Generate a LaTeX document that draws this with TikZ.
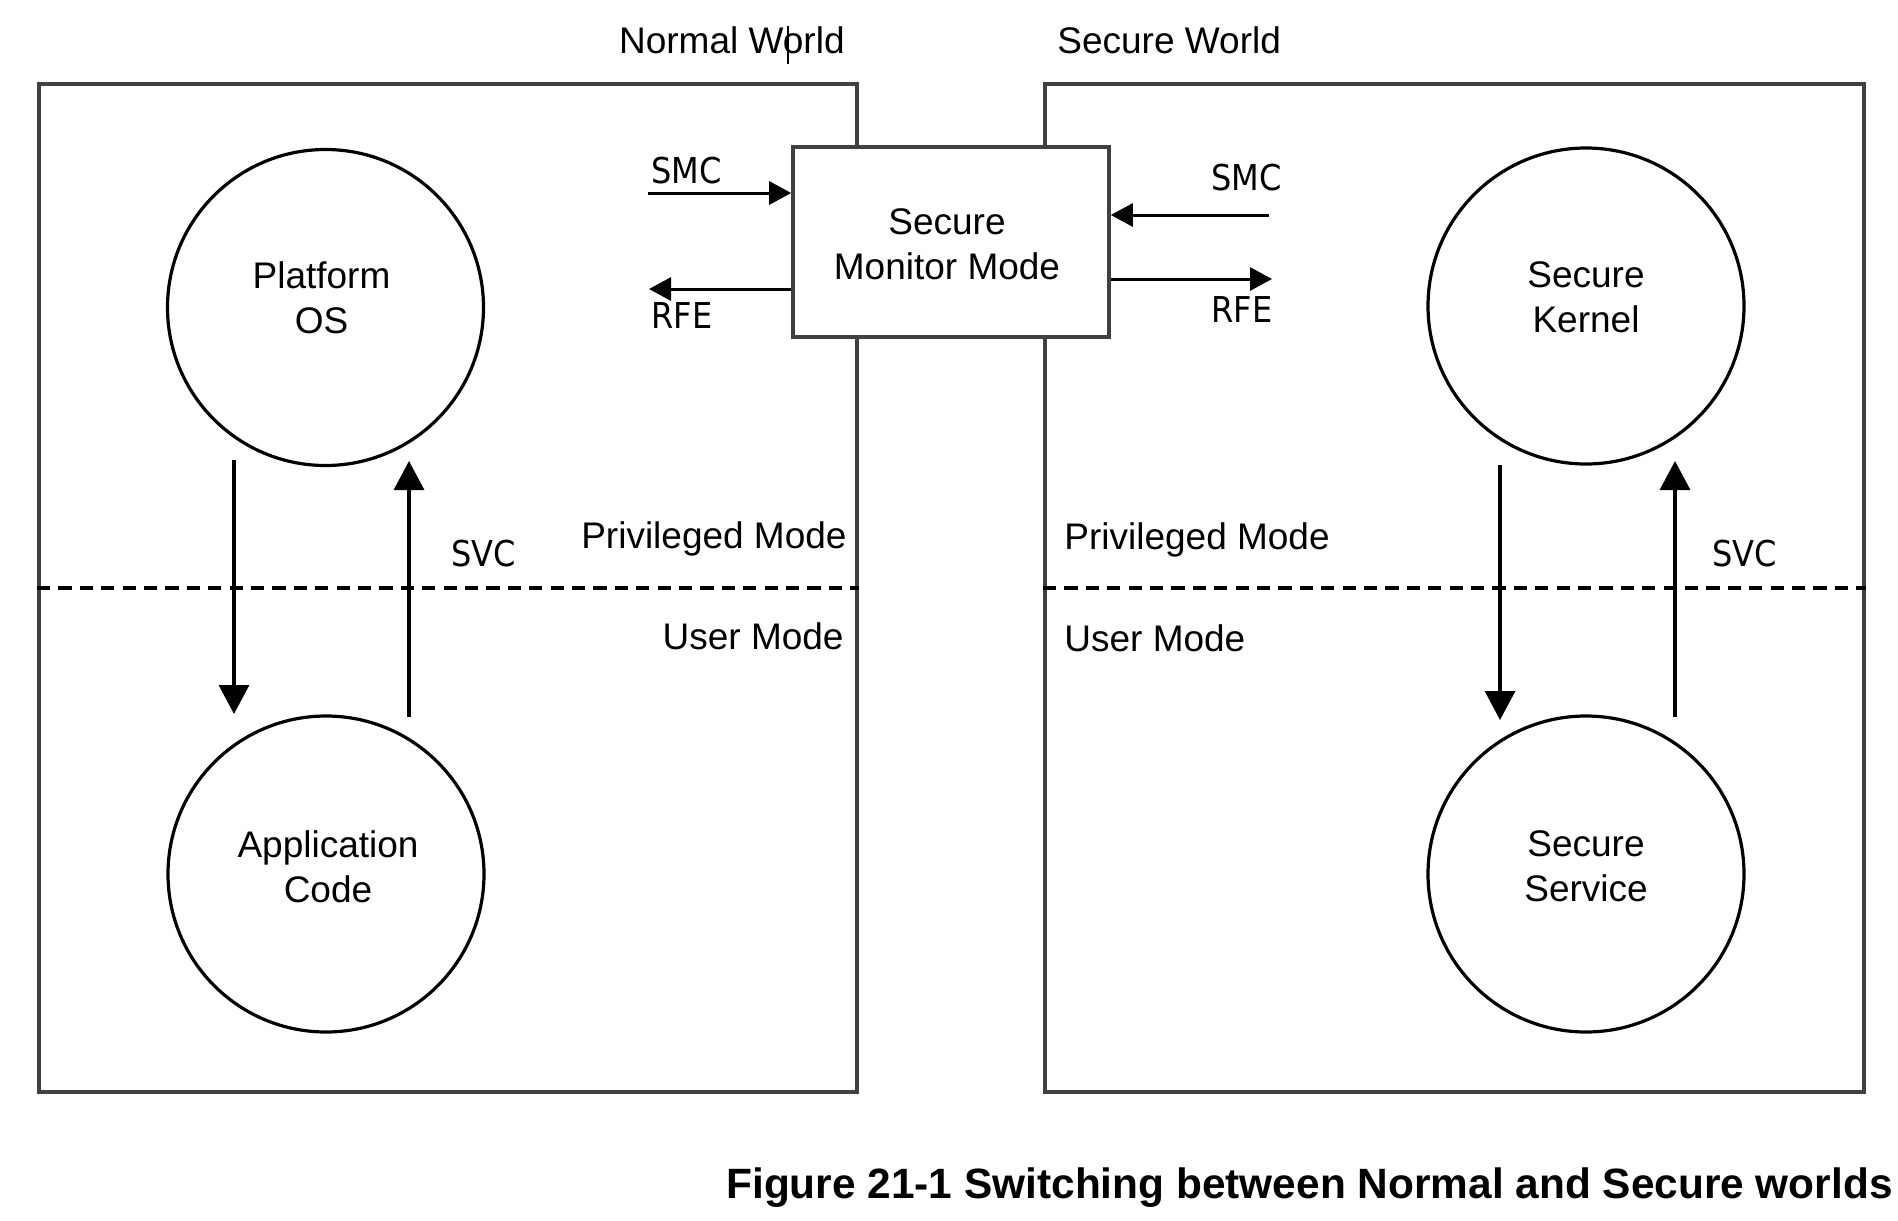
\documentclass[tikz,border=0pt]{standalone}
\usepackage{fontspec}
\setmainfont{Liberation Sans}
\newfontfamily\smcfont[FakeStretch=0.9]{DejaVu Sans}
\usetikzlibrary{arrows.meta}
\definecolor{boxgray}{HTML}{404040}
\tikzset{
  worldbox/.style={draw=boxgray, line width=2pt, inner sep=0pt},
  smmbox/.style={draw=boxgray, line width=1.8pt, fill=white, inner sep=0pt,
    minimum width=158pt, minimum height=95pt},
  proc/.style={circle, draw=black, line width=1.6pt, inner sep=0pt, minimum size=158pt},
  lbl/.style={inner sep=0pt, align=center, font=\fontsize{18.5pt}{22.5pt}\selectfont},
  smclbl/.style={inner sep=0pt, font=\smcfont\fontsize{17.8pt}{21pt}\selectfont},
  modeline/.style={line width=2pt, dash pattern=on 6.6pt off 4.1pt},
  bigarrow/.style={line width=1.6pt, -{Triangle[length=14.5pt,width=15pt]}},
  smallarrow/.style={line width=1.5pt, -{Triangle[length=11pt,width=11.5pt]}},
}
\begin{document}
\begin{tikzpicture}[x=0.5pt,y=-0.5pt]
\useasboundingbox[fill=white] (0,0) rectangle (1898,1220);

% world boxes
\node[worldbox, minimum width=409pt, minimum height=504pt] (nw) at (448,588) {};
\node[worldbox, minimum width=409.5pt, minimum height=504pt] (sw) at (1454.5,588) {};

% world titles
\node[lbl, anchor=base east] (nwt) at (845,54) {Normal World};
\node[lbl, anchor=base west] (swt) at (1057,54) {Secure World};
\draw[line width=0.8pt] (788,26) -- (788,64);

% mode separators
\draw[modeline] (nw.west) -- (nw.east);
\draw[modeline] (sw.west) -- (sw.east);

% secure monitor box
\node[smmbox] (smm) at (951,242) {};
\node[lbl] (smmt) at ([xshift=-2pt,yshift=-1.2pt]smm.center) {Secure\\Monitor Mode};

% processes
\node[proc] (os) at (325.5,307.5) {};
\node[proc] (app) at (326,874) {};
\node[proc] (sk) at (1586,306) {};
\node[proc] (ss) at (1586,874) {};
\node[lbl] at ([xshift=-2pt,yshift=5pt]os.center) {Platform\\OS};
\node[lbl] at ([xshift=1pt,yshift=3.75pt]app.center) {Application\\Code};
\node[lbl] at ([yshift=4.25pt]sk.center) {Secure\\Kernel};
\node[lbl] at ([yshift=3.75pt]ss.center) {Secure\\Service};

% mode labels
\node[lbl, anchor=base east] at (847,548) {Privileged Mode};
\node[lbl, anchor=base east] at (844,649) {User Mode};
\node[lbl, anchor=base west] at (1064,549) {Privileged Mode};
\node[lbl, anchor=base west] at (1064,651) {User Mode};

% vertical transitions
\coordinate (ld1) at (234,460);
\coordinate (ld2) at (234,714);
\coordinate (lu1) at (409,717);
\coordinate (lu2) at (409,461);
\coordinate (rd1) at (1500,465);
\coordinate (rd2) at (1500,720);
\coordinate (ru1) at (1675,717);
\coordinate (ru2) at (1675,461);
\draw[bigarrow] (ld1) -- (ld2);
\draw[bigarrow] (lu1) -- (lu2);
\draw[bigarrow] (rd1) -- (rd2);
\draw[bigarrow] (ru1) -- (ru2);
\node[smclbl, anchor=base west] at (451,566) {SVC};
\node[smclbl, anchor=base west] at (1712,566) {SVC};

% SMC / RFE
\coordinate (smcl) at (648,193);
\coordinate (rfel) at (649,289);
\coordinate (smcr) at (1269,215);
\coordinate (rfer) at (1272,279);
\draw[smallarrow] (smcl) -- (smcl -| smm.west);
\draw[smallarrow] (rfel -| smm.west) -- (rfel);
\draw[smallarrow] (smcr) -- (smcr -| smm.east);
\draw[smallarrow] (rfer -| smm.east) -- (rfer);
\node[smclbl, anchor=base west] at (651,183) {SMC};
\node[smclbl, anchor=base west] at (651,328) {RFE};
\node[smclbl, anchor=base west] at (1211,190) {SMC};
\node[smclbl, anchor=base west] at (1211,322) {RFE};

% caption
\node[inner sep=0pt, anchor=base east, font=\bfseries\fontsize{21.2pt}{25pt}\selectfont] (cap) at (1893,1198) {Figure 21-1 Switching between Normal and Secure worlds};
\end{tikzpicture}
\end{document}
